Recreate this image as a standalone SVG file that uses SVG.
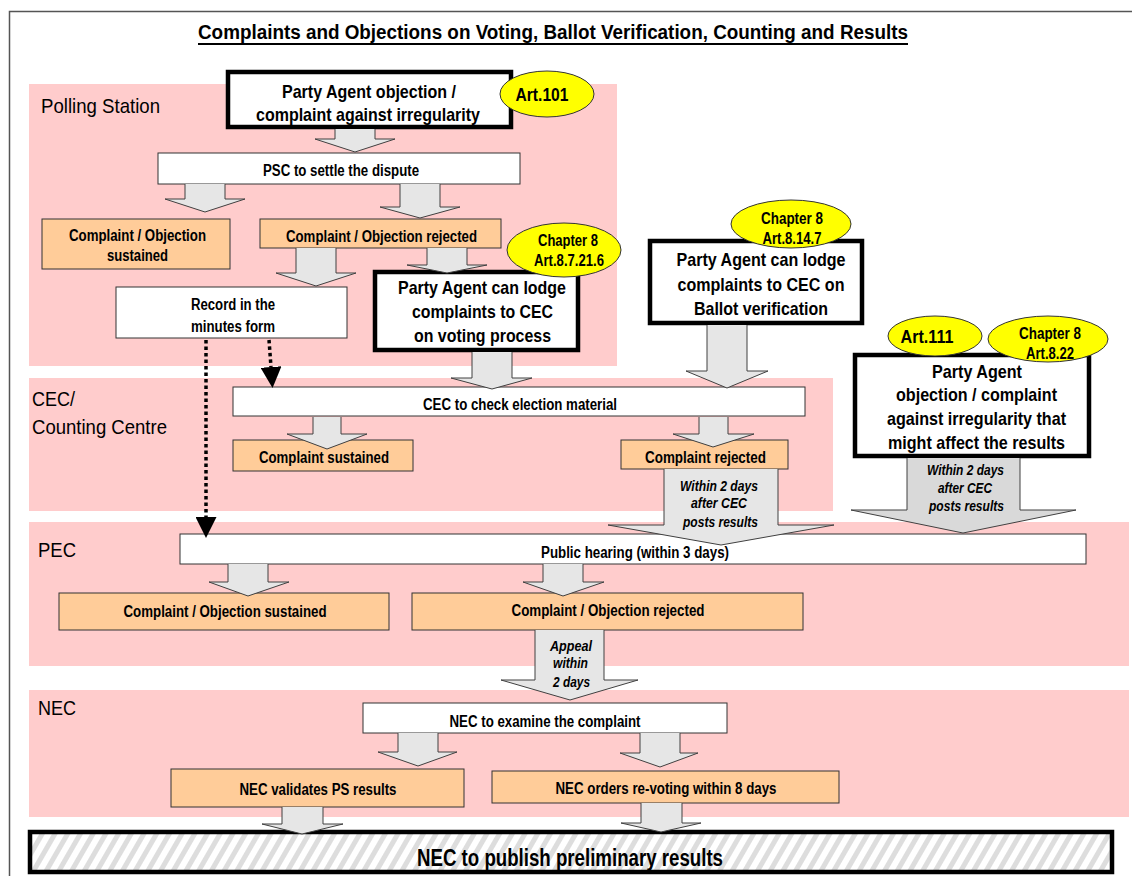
<svg xmlns="http://www.w3.org/2000/svg" width="1132" height="876" viewBox="0 0 1132 876">
<style>
.lane{fill:#FFCCCC}
.box{fill:#FFFFFF;stroke:#333333;stroke-width:1}
.obox{fill:#FFCC99;stroke:#333333;stroke-width:1}
.tbox{fill:#FFFFFF;stroke:#000000;stroke-width:4.5}
.ell{fill:#FFFF00;stroke:#333333;stroke-width:1}
.arr{fill:#E6E6E6;stroke:#404040;stroke-width:1}
.arr2{fill:#D9D9D9;stroke:#404040;stroke-width:1}
.dot{fill:none;stroke:#000000;stroke-width:3.5;stroke-dasharray:3.5 3}
text{font-family:"Liberation Sans Narrow","Liberation Sans",Arial,sans-serif;fill:#000000}
.t{font-weight:bold;text-anchor:middle;dominant-baseline:central}
.f16{font-size:16px}
.f19{font-size:19px}
.f14{font-size:14px;font-style:italic}
.lbl{font-size:21px;font-weight:normal}
</style>
<defs>
<pattern id="hatch" width="11" height="11" patternUnits="userSpaceOnUse" patternTransform="rotate(30)">
<rect width="11" height="11" fill="#FFFFFF"/>
<rect width="5" height="11" fill="#DDDDDD"/>
</pattern>
<marker id="head" viewBox="0 0 20 20" refX="0" refY="10" markerWidth="21" markerHeight="21" markerUnits="userSpaceOnUse" orient="auto">
<path d="M0,0 L20,10 L0,20 z" fill="#000000"/>
</marker>
</defs>

<path d="M9.5,876 L9.5,11.5 L1132,11.5" fill="none" stroke="#555555" stroke-width="1.5"/>
<text x="553" y="32" class="t" style="font-size:20px;text-decoration:underline" textLength="710" lengthAdjust="spacingAndGlyphs">Complaints and Objections on Voting, Ballot Verification, Counting and Results</text>

<g id="lanes">
<rect class="lane" x="29" y="84" width="588" height="282"/>
<rect class="lane" x="29" y="378" width="804" height="133"/>
<rect class="lane" x="29" y="522" width="1100" height="144"/>
<rect class="lane" x="29" y="690" width="1100" height="127"/>
<text x="41" y="113" class="lbl" textLength="119" lengthAdjust="spacingAndGlyphs">Polling Station</text>
<text x="32" y="406" class="lbl" textLength="43" lengthAdjust="spacingAndGlyphs">CEC/</text>
<text x="32" y="434" class="lbl" textLength="135" lengthAdjust="spacingAndGlyphs">Counting Centre</text>
<text x="38" y="557" class="lbl" textLength="38" lengthAdjust="spacingAndGlyphs">PEC</text>
<text x="38" y="715" class="lbl" textLength="38" lengthAdjust="spacingAndGlyphs">NEC</text>
</g>

<g id="n-agent-objection">
<rect class="tbox" x="228" y="72" width="283" height="55"/>
<text x="369" y="91" class="t f19" textLength="174" lengthAdjust="spacingAndGlyphs">Party Agent objection /</text>
<text x="368" y="114" class="t f19" textLength="224" lengthAdjust="spacingAndGlyphs">complaint against irregularity</text>
</g>
<g id="n-art101">
<ellipse class="ell" cx="547" cy="94" rx="47" ry="23"/>
<text x="542" y="94" class="t f19" textLength="53" lengthAdjust="spacingAndGlyphs">Art.101</text>
</g>
<g id="n-psc">
<rect class="box" x="158" y="153" width="362" height="31"/>
<text x="341" y="170" class="t f16" textLength="156" lengthAdjust="spacingAndGlyphs">PSC to settle the dispute</text>
</g>
<g id="n-ps-sustained">
<rect class="obox" x="42" y="219" width="188" height="50"/>
<text x="137.5" y="235" class="t f16" textLength="137" lengthAdjust="spacingAndGlyphs">Complaint / Objection</text>
<text x="137.5" y="255" class="t f16" textLength="61" lengthAdjust="spacingAndGlyphs">sustained</text>
</g>
<g id="n-ps-rejected">
<rect class="obox" x="260" y="219" width="241" height="29"/>
<text x="381.5" y="236" class="t f16" textLength="191" lengthAdjust="spacingAndGlyphs">Complaint / Objection rejected</text>
</g>
<g id="n-record">
<rect class="box" x="116" y="287" width="231" height="51"/>
<text x="233" y="304" class="t f16" textLength="84" lengthAdjust="spacingAndGlyphs">Record in the</text>
<text x="233" y="326" class="t f16" textLength="84" lengthAdjust="spacingAndGlyphs">minutes form</text>
</g>
<g id="n-lodge-voting">
<rect class="tbox" x="375" y="272" width="203" height="78"/>
<text x="482" y="287" class="t f19" textLength="168" lengthAdjust="spacingAndGlyphs">Party Agent can lodge</text>
<text x="482.5" y="311" class="t f19" textLength="141" lengthAdjust="spacingAndGlyphs">complaints to CEC</text>
<text x="482.5" y="335" class="t f19" textLength="137" lengthAdjust="spacingAndGlyphs">on voting process</text>
</g>
<g id="n-ch8-87216">
<ellipse class="ell" cx="564" cy="250" rx="57" ry="27"/>
<text x="568" y="240" class="t f16" textLength="60" lengthAdjust="spacingAndGlyphs">Chapter 8</text>
<text x="569" y="260" class="t f16" textLength="70" lengthAdjust="spacingAndGlyphs">Art.8.7.21.6</text>
</g>
<g id="n-lodge-ballot">
<rect class="tbox" x="650" y="241" width="212" height="82"/>
<text x="761" y="259" class="t f19" textLength="169" lengthAdjust="spacingAndGlyphs">Party Agent can lodge</text>
<text x="761" y="284" class="t f19" textLength="167" lengthAdjust="spacingAndGlyphs">complaints to CEC on</text>
<text x="761" y="308" class="t f19" textLength="134" lengthAdjust="spacingAndGlyphs">Ballot verification</text>
</g>
<g id="n-ch8-8147">
<ellipse class="ell" cx="791" cy="224" rx="60" ry="24"/>
<text x="792" y="218" class="t f16" textLength="62" lengthAdjust="spacingAndGlyphs">Chapter 8</text>
<text x="792" y="238" class="t f16" textLength="59" lengthAdjust="spacingAndGlyphs">Art.8.14.7</text>
</g>
<g id="n-agent-results">
<rect class="tbox" x="855" y="355" width="234" height="101"/>
<text x="977" y="371" class="t f19" textLength="90" lengthAdjust="spacingAndGlyphs">Party Agent</text>
<text x="976.5" y="394" class="t f19" textLength="161" lengthAdjust="spacingAndGlyphs">objection / complaint</text>
<text x="976.5" y="418" class="t f19" textLength="179" lengthAdjust="spacingAndGlyphs">against irregularity that</text>
<text x="976.5" y="442" class="t f19" textLength="177" lengthAdjust="spacingAndGlyphs">might affect the results</text>
</g>
<g id="n-art111">
<ellipse class="ell" cx="935" cy="336" rx="47" ry="20"/>
<text x="927" y="336" class="t f19" textLength="53" lengthAdjust="spacingAndGlyphs">Art.111</text>
</g>
<g id="n-ch8-822">
<ellipse class="ell" cx="1048" cy="339" rx="60" ry="23"/>
<text x="1050" y="333" class="t f16" textLength="62" lengthAdjust="spacingAndGlyphs">Chapter 8</text>
<text x="1050" y="353" class="t f16" textLength="48" lengthAdjust="spacingAndGlyphs">Art.8.22</text>
</g>
<g id="n-cec-check">
<rect class="box" x="233" y="387" width="572" height="29"/>
<text x="520" y="404" class="t f16" textLength="194" lengthAdjust="spacingAndGlyphs">CEC to check election material</text>
</g>
<g id="n-cec-sustained">
<rect class="obox" x="233" y="440" width="180" height="31"/>
<text x="324" y="457" class="t f16" textLength="130" lengthAdjust="spacingAndGlyphs">Complaint sustained</text>
</g>
<g id="n-cec-rejected">
<rect class="obox" x="621" y="440" width="167" height="29"/>
<text x="705.5" y="457" class="t f16" textLength="121" lengthAdjust="spacingAndGlyphs">Complaint rejected</text>
</g>
<g id="n-public-hearing">
<rect class="box" x="180" y="534" width="906" height="30"/>
<text x="635" y="552" class="t f16" textLength="188" lengthAdjust="spacingAndGlyphs">Public hearing (within 3 days)</text>
</g>
<g id="n-pec-sustained">
<rect class="obox" x="59" y="593" width="330" height="37"/>
<text x="225" y="611" class="t f16" textLength="203" lengthAdjust="spacingAndGlyphs">Complaint / Objection sustained</text>
</g>
<g id="n-pec-rejected">
<rect class="obox" x="412" y="593" width="391" height="37"/>
<text x="608" y="610" class="t f16" textLength="193" lengthAdjust="spacingAndGlyphs">Complaint / Objection rejected</text>
</g>
<g id="n-nec-examine">
<rect class="box" x="363" y="703" width="364" height="30"/>
<text x="545" y="721" class="t f16" textLength="191" lengthAdjust="spacingAndGlyphs">NEC to examine the complaint</text>
</g>
<g id="n-nec-validates">
<rect class="obox" x="171" y="769" width="293" height="38"/>
<text x="318" y="789" class="t f16" textLength="157" lengthAdjust="spacingAndGlyphs">NEC validates PS results</text>
</g>
<g id="n-nec-orders">
<rect class="obox" x="492" y="771" width="347" height="32"/>
<text x="666" y="788" class="t f16" textLength="221" lengthAdjust="spacingAndGlyphs">NEC orders re-voting within 8 days</text>
</g>
<g id="n-publish">
<rect x="30" y="832" width="1082" height="40" fill="url(#hatch)" stroke="#000000" stroke-width="4.5"/>
<text x="570" y="858" class="t" style="font-size:23px" textLength="306" lengthAdjust="spacingAndGlyphs">NEC to publish preliminary results</text>
</g>

<g id="connectors">
<path class="arr" d="M335,129 L335,139 L315,139 L355,152 L395,139 L375,139 L375,129"/>
<path class="arr" d="M185,184 L185,199 L165,199 L205,212 L245,199 L225,199 L225,184"/>
<path class="arr" d="M400,184 L400,207 L380,207 L420,218 L460,207 L440,207 L440,184"/>
<path class="arr" d="M296,248 L296,273 L276,273 L316,286 L356,273 L336,273 L336,248"/>
<path class="arr" d="M427,248 L427,265 L407,265 L447,273 L487,265 L467,265 L467,248"/>
<path class="arr" d="M472,352 L472,378 L451,378 L492,389 L532,378 L512,378 L512,352"/>
<path class="arr" d="M707,325 L707,371 L686,371 L727,388 L768,371 L747,371 L747,325"/>
<path class="arr" d="M313,417 L313,434 L287,434 L327,449 L367,434 L341,434 L341,417"/>
<path class="arr" d="M699,417 L699,434 L673,434 L713,447 L754,434 L728,434 L728,417"/>
<path class="arr" d="M664,469 L664,525 L608,525 L721,545 L834,525 L778,525 L778,469"/>
<text x="719" y="486" class="t f14" textLength="78" lengthAdjust="spacingAndGlyphs">Within 2 days</text>
<text x="719" y="503" class="t f14" textLength="56" lengthAdjust="spacingAndGlyphs">after CEC</text>
<text x="720.5" y="522" class="t f14" textLength="75" lengthAdjust="spacingAndGlyphs">posts results</text>
<path class="arr2" d="M907,458 L907,510 L851,510 L963,533 L1076,510 L1020,510 L1020,458"/>
<text x="965.5" y="470" class="t f14" textLength="77" lengthAdjust="spacingAndGlyphs">Within 2 days</text>
<text x="965" y="488" class="t f14" textLength="54" lengthAdjust="spacingAndGlyphs">after CEC</text>
<text x="966.5" y="506" class="t f14" textLength="75" lengthAdjust="spacingAndGlyphs">posts results</text>
<path class="arr" d="M228,564 L228,582 L209,582 L248,596 L289,582 L268,582 L268,564"/>
<path class="arr" d="M543,564 L543,582 L523,582 L563,596 L604,582 L583,582 L583,564"/>
<path class="arr" d="M535,630 L535,680 L501,680 L570,700 L638,680 L604,680 L604,630"/>
<text x="571" y="646" class="t f14" textLength="42" lengthAdjust="spacingAndGlyphs">Appeal</text>
<text x="570.5" y="663" class="t f14" textLength="35" lengthAdjust="spacingAndGlyphs">within</text>
<text x="571.5" y="682" class="t f14" textLength="37" lengthAdjust="spacingAndGlyphs">2 days</text>
<path class="arr" d="M398,733 L398,752 L378,752 L418,766 L457,752 L438,752 L438,733"/>
<path class="arr" d="M640,733 L640,753 L620,753 L660,767 L698,753 L680,753 L680,733"/>
<path class="arr" d="M282,807 L282,824 L262,824 L302,834 L343,824 L323,824 L323,807"/>
<path class="arr" d="M641,803 L641,823 L621,823 L661,832 L701,823 L682,823 L682,803"/>
<path class="dot" d="M206,340 L206,517" marker-end="url(#head)"/>
<path class="dot" d="M269,340 L271,367" marker-end="url(#head)"/>
</g>
</svg>
